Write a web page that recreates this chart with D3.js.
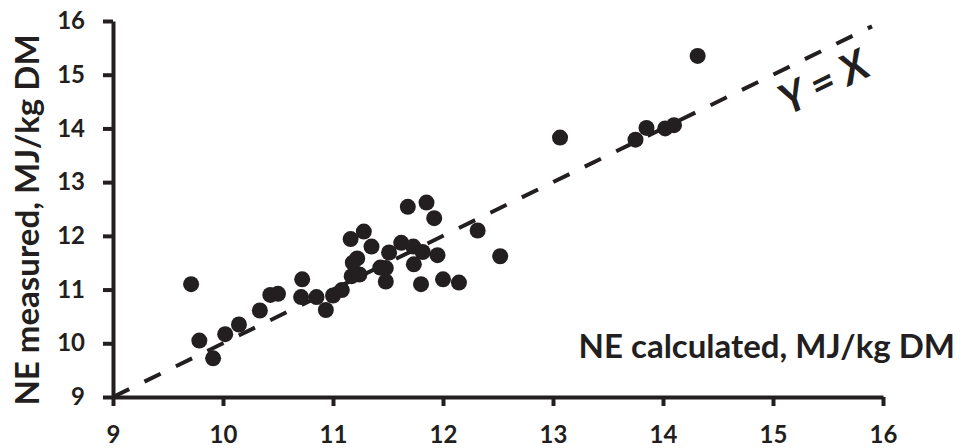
<!DOCTYPE html>
<html>
<head>
<meta charset="utf-8">
<script src="https://cdn.jsdelivr.net/npm/d3@7"></script>
<style>
  body { margin: 0; background: #fff; }
  text { font-family: Lato, "Open Sans", sans-serif; font-weight: bold; fill: #231f20; }
</style>
</head>
<body>
<div id="scatter"></div>
<script>
// NE calculated vs NE measured (MJ/kg DM)
const neCalculated = [9.71, 9.785, 9.91, 10.02, 10.145, 10.335, 10.43, 10.50, 10.72, 10.71,
    10.85, 10.935, 11.00, 11.08, 11.17, 11.24, 11.18, 11.22, 11.16, 11.28,
    11.35, 11.43, 11.48, 11.48, 11.51, 11.62, 11.73, 11.815, 11.735, 11.80,
    11.95, 12.00, 12.145, 11.68, 11.85, 11.92, 12.315, 12.52, 13.064, 13.75,
    13.85, 14.02, 14.10, 14.315];
const neMeasured = [11.10, 10.05, 9.72, 10.17, 10.35, 10.61, 10.90, 10.92, 11.19, 10.86,
    10.86, 10.62, 10.89, 10.99, 11.25, 11.28, 11.50, 11.58, 11.94, 12.08,
    11.80, 11.41, 11.40, 11.15, 11.69, 11.87, 11.80, 11.70, 11.47, 11.10,
    11.64, 11.19, 11.13, 12.54, 12.62, 12.33, 12.10, 11.62, 13.83, 13.79,
    14.01, 14.00, 14.06, 15.35];
const axisTicks = [9, 10, 11, 12, 13, 14, 15, 16];
const identityLine = [9, 15.9];

const W = 960, H = 448;
const margin = {top: 21, right: 77, bottom: 51, left: 113},
    width = W - margin.left - margin.right,
    height = H - margin.top - margin.bottom;
const ink = "#231f20";

const svg = d3.select("#scatter")
    .append("svg")
    .attr("width", W)
    .attr("height", H)
    .append("g")
    .attr("transform", `translate(${margin.left},${margin.top})`);

const x = d3.scaleLinear().domain([9, 16]).range([0, width]);
const y = d3.scaleLinear().domain([9, 16]).range([height, 0]);

// Y = X reference line
svg.append("path")
    .datum(identityLine)
    .attr("fill", "none")
    .attr("stroke", ink)
    .attr("stroke-width", 4)
    .attr("stroke-dasharray", "18,17")
    .attr("d", d3.line().x(d => x(d)).y(d => y(d)));

// points
const points = neCalculated.map((v, i) => ({calc: v, meas: neMeasured[i]}));
svg.selectAll("circle")
    .data(points)
    .join("circle")
    .attr("cx", d => x(d.calc))
    .attr("cy", d => y(d.meas))
    .attr("r", 8)
    .attr("fill", ink);

// X axis
const xAxis = svg.append("g")
    .attr("transform", `translate(0,${height})`)
    .call(d3.axisBottom(x).tickValues(axisTicks).tickFormat(d3.format("d"))
        .tickSize(9).tickSizeOuter(0).tickPadding(20));

// Y axis
const yAxis = svg.append("g")
    .call(d3.axisLeft(y).tickValues(axisTicks).tickFormat(d3.format("d"))
        .tickSize(10).tickSizeOuter(0).tickPadding(18));

[xAxis, yAxis].forEach(g => {
    g.select(".domain").attr("stroke", ink).attr("stroke-width", 4);
    g.selectAll(".tick line").attr("stroke", ink).attr("stroke-width", 4);
    g.selectAll(".tick text").attr("font-size", 24).attr("fill", ink)
        .style("font-family", "Lato, sans-serif").style("font-weight", "bold");
});

// axis titles
svg.append("text")
    .attr("text-anchor", "end")
    .attr("x", 955 - margin.left)
    .attr("y", 358 - margin.top)
    .attr("font-size", 33)
    .text("NE calculated, MJ/kg DM");

svg.append("text")
    .attr("text-anchor", "middle")
    .attr("transform", `translate(${39 - margin.left},${220 - margin.top}) rotate(-90)`)
    .attr("font-size", 33)
    .text("NE measured, MJ/kg DM");

// Y = X label
svg.append("text")
    .attr("text-anchor", "middle")
    .attr("dominant-baseline", "central")
    .attr("transform", `translate(${823 - margin.left},${81 - margin.top}) rotate(-26)`)
    .attr("font-size", 42)
    .attr("font-style", "italic")
    .text("Y = X");
</script>
</body>
</html>
